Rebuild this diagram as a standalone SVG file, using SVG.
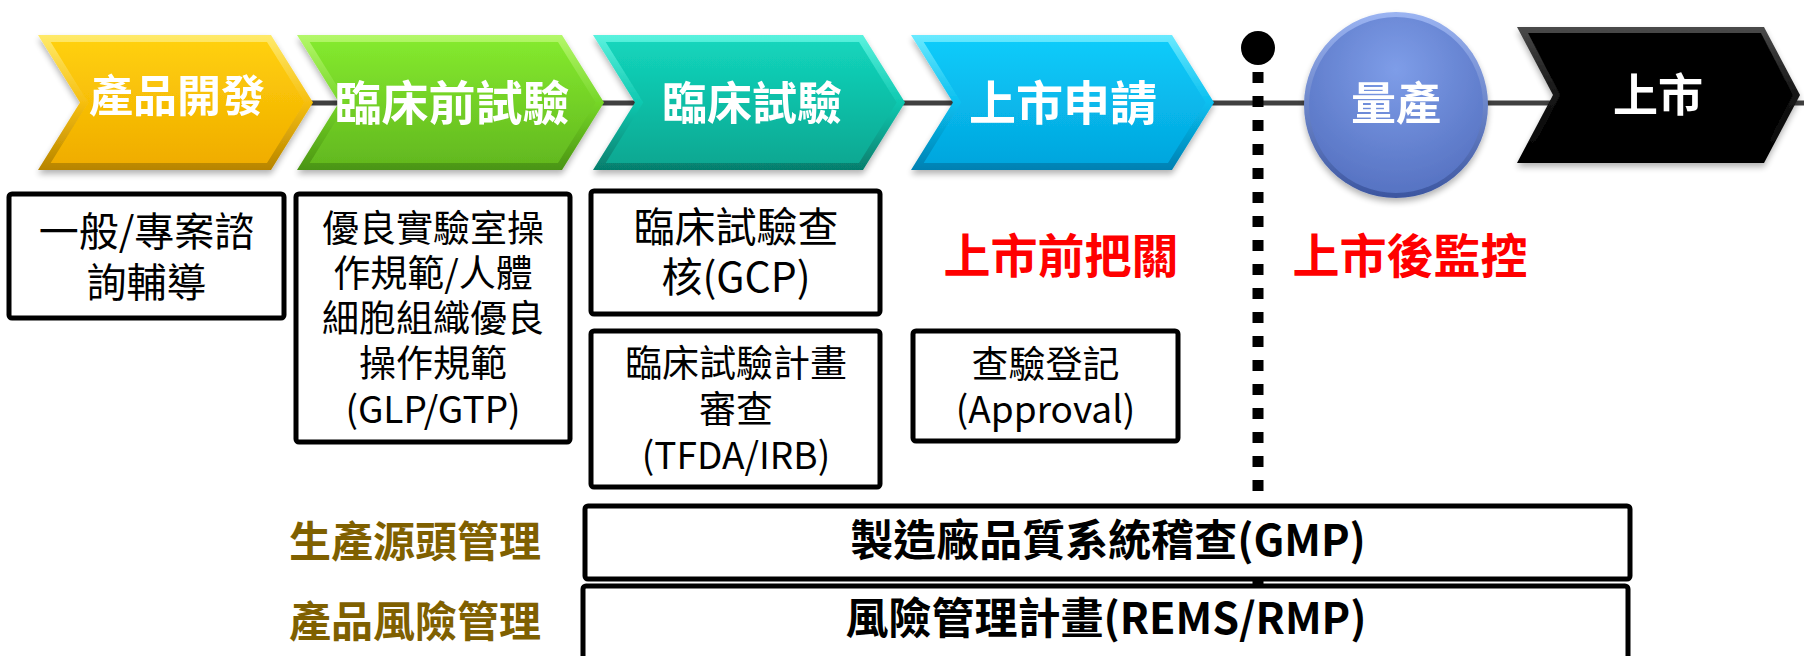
<svg xmlns="http://www.w3.org/2000/svg" width="1804" height="656" viewBox="0 0 1804 656">
<style>
.lbl{font-family:"Noto Sans CJK TC","Noto Sans CJK SC",sans-serif;font-weight:700;fill:#fff;text-anchor:middle}
.box{fill:#fff;stroke:#000;stroke-width:5}
.bt{font-family:"Noto Sans CJK TC","Noto Sans CJK SC",sans-serif;font-weight:400;fill:#000;text-anchor:middle}
.bb{font-family:"Noto Sans CJK TC","Noto Sans CJK SC",sans-serif;font-weight:700;fill:#000;text-anchor:middle;font-size:43px}
.red{font-family:"Noto Sans CJK TC","Noto Sans CJK SC",sans-serif;font-weight:700;fill:#ff0000;text-anchor:middle;font-size:47px}
.brn{font-family:"Noto Sans CJK TC","Noto Sans CJK SC",sans-serif;font-weight:700;fill:#7f6000;text-anchor:middle;font-size:42px}
</style>
<defs>
<filter id="sh" x="-10%" y="-15%" width="120%" height="140%">
<feGaussianBlur in="SourceAlpha" stdDeviation="3"/>
<feOffset dy="4" result="b"/>
<feComponentTransfer><feFuncA type="linear" slope="0.3"/></feComponentTransfer>
<feMerge><feMergeNode/><feMergeNode in="SourceGraphic"/></feMerge>
</filter>
<linearGradient id="yO" x1="0" y1="0" x2="0" y2="1"><stop offset="0" stop-color="#ffea6a"/><stop offset="0.5" stop-color="#f6bf10"/><stop offset="1" stop-color="#b78400"/></linearGradient>
<linearGradient id="yI" x1="0" y1="0" x2="0" y2="1"><stop offset="0" stop-color="#ffd00c"/><stop offset="1" stop-color="#f0ad00"/></linearGradient>
<linearGradient id="gO" x1="0" y1="0" x2="0" y2="1"><stop offset="0" stop-color="#b4f86a"/><stop offset="0.5" stop-color="#76d628"/><stop offset="1" stop-color="#4a9412"/></linearGradient>
<linearGradient id="gI" x1="0" y1="0" x2="0" y2="1"><stop offset="0" stop-color="#84e92e"/><stop offset="1" stop-color="#63b91f"/></linearGradient>
<linearGradient id="tO" x1="0" y1="0" x2="0" y2="1"><stop offset="0" stop-color="#5af2de"/><stop offset="0.5" stop-color="#0ec8b0"/><stop offset="1" stop-color="#067d6c"/></linearGradient>
<linearGradient id="tI" x1="0" y1="0" x2="0" y2="1"><stop offset="0" stop-color="#13d5bc"/><stop offset="1" stop-color="#0aa892"/></linearGradient>
<linearGradient id="bO" x1="0" y1="0" x2="0" y2="1"><stop offset="0" stop-color="#6aeaff"/><stop offset="0.5" stop-color="#08bff0"/><stop offset="1" stop-color="#0380b2"/></linearGradient>
<linearGradient id="bI" x1="0" y1="0" x2="0" y2="1"><stop offset="0" stop-color="#0bcbfa"/><stop offset="1" stop-color="#04a6de"/></linearGradient>
<linearGradient id="kO" x1="0" y1="0" x2="0" y2="1"><stop offset="0" stop-color="#4a4a4a"/><stop offset="0.5" stop-color="#151515"/><stop offset="1" stop-color="#000"/></linearGradient>
<radialGradient id="cI" cx="0.5" cy="0.3" r="0.75"><stop offset="0" stop-color="#7e9de8"/><stop offset="1" stop-color="#5470c0"/></radialGradient>
<linearGradient id="cO" x1="0" y1="0" x2="0" y2="1"><stop offset="0" stop-color="#9bb4f2"/><stop offset="1" stop-color="#3c56a0"/></linearGradient>
</defs>
<rect width="1804" height="656" fill="#fff"/>
<g id="connectors">
<line x1="300" y1="103" x2="1804" y2="103" stroke="#404040" stroke-width="5"/>
</g>
<g id="divider">
<line x1="1258" y1="72" x2="1258" y2="600" stroke="#000" stroke-width="11" stroke-dasharray="11 13"/>
<circle cx="1258" cy="48" r="17" fill="#000"/>
</g>
<g id="n-dev" filter="url(#sh)">
<polygon points="38,35 271,35 313,102.5 271,170 38,170 80,102.5" fill="url(#yO)"/>
<polygon points="50.7,42 267,42 304.7,102.5 267,163 50.7,163 88.3,102.5" fill="url(#yI)"/>
<text class="lbl" x="177" y="112" font-size="44">產品開發</text>
</g>
<g id="n-preclinical" filter="url(#sh)">
<polygon points="297,35 562,35 604,102.5 562,170 297,170 339,102.5" fill="url(#gO)"/>
<polygon points="309.7,42 558,42 595.7,102.5 558,163 309.7,163 347.3,102.5" fill="url(#gI)"/>
<text class="lbl" x="452" y="120" font-size="47">臨床前試驗</text>
</g>
<g id="n-clinical" filter="url(#sh)">
<polygon points="593,35 863,35 905,102.5 863,170 593,170 635,102.5" fill="url(#tO)"/>
<polygon points="605.7,42 859,42 896.7,102.5 859,163 605.7,163 643.3,102.5" fill="url(#tI)"/>
<text class="lbl" x="752" y="120" font-size="45">臨床試驗</text>
</g>
<g id="n-apply" filter="url(#sh)">
<polygon points="911,35 1172,35 1214,102.5 1172,170 911,170 953,102.5" fill="url(#bO)"/>
<polygon points="923.7,42 1168,42 1205.7,102.5 1168,163 923.7,163 961.3,102.5" fill="url(#bI)"/>
<text class="lbl" x="1063" y="120" font-size="47">上市申請</text>
</g>
<g id="n-mass" filter="url(#sh)">
<ellipse cx="1396" cy="105" rx="92" ry="93" fill="url(#cO)"/>
<ellipse cx="1396" cy="105" rx="87" ry="88" fill="url(#cI)"/>
<text class="lbl" x="1396" y="120" font-size="45">量產</text>
</g>
<g id="n-market" filter="url(#sh)">
<polygon points="1517,27 1764,27 1800,95 1764,163 1517,163 1553,95" fill="url(#kO)"/>
<polygon points="1528,33 1761,33 1793,95 1761,157 1528,157 1560,95" fill="#060606"/>
<text class="lbl" x="1658" y="112" font-size="45">上市</text>
</g>
<g id="b-consult">
<rect class="box" x="9" y="194" width="275" height="124" rx="3"/>
<text class="bt" font-size="40" x="146.5"><tspan x="146.5" y="246">一般/專案諮</tspan><tspan x="146.5" y="297">詢輔導</tspan></text>
</g>
<g id="b-glp">
<rect class="box" x="296" y="194" width="274" height="248" rx="3"/>
<text class="bt" font-size="37" x="433"><tspan x="433" y="242">優良實驗室操</tspan><tspan x="433" y="287">作規範/人體</tspan><tspan x="433" y="332">細胞組織優良</tspan><tspan x="433" y="377">操作規範</tspan><tspan x="433" y="423">(GLP/GTP)</tspan></text>
</g>
<g id="b-gcp">
<rect class="box" x="591" y="191" width="289" height="123" rx="3"/>
<text class="bt" font-size="41" x="736"><tspan x="736" y="242">臨床試驗查</tspan><tspan x="736" y="292">核(GCP)</tspan></text>
</g>
<g id="b-review">
<rect class="box" x="591" y="331" width="289" height="156" rx="3"/>
<text class="bt" font-size="37" x="736"><tspan x="736" y="377">臨床試驗計畫</tspan><tspan x="736" y="423">審查</tspan><tspan x="736" y="469">(TFDA/IRB)</tspan></text>
</g>
<g id="b-approval">
<rect class="box" x="913" y="331" width="265" height="110" rx="3"/>
<text class="bt" font-size="37" x="1045.5"><tspan x="1045.5" y="378">查驗登記</tspan><tspan x="1045.5" y="423">(Approval)</tspan></text>
</g>
<g id="t-pre">
<text class="red" x="1061" y="273">上市前把關</text>
</g>
<g id="t-post">
<text class="red" x="1410" y="273">上市後監控</text>
</g>
<g id="b-gmp">
<rect class="box" x="585" y="506" width="1045" height="73" rx="3"/>
<text class="bb" x="1108" y="556">製造廠品質系統稽查(GMP)</text>
</g>
<g id="b-rems">
<rect class="box" x="583" y="586" width="1045" height="80" rx="3"/>
<text class="bb" x="1106" y="634">風險管理計畫(REMS/RMP)</text>
</g>
<g id="t-source">
<text class="brn" x="415" y="557">生產源頭管理</text>
</g>
<g id="t-risk">
<text class="brn" x="415" y="637">產品風險管理</text>
</g>
</svg>
